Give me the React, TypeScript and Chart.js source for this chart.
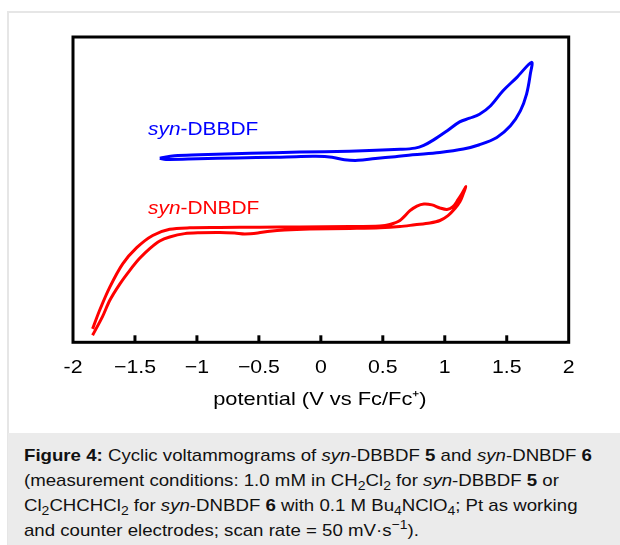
import React, { useEffect, useRef } from "react";
import { Chart, registerables } from "chart.js";

Chart.register(...registerables);

// x axis (potential, V vs Fc/Fc+)
const xTickValues = [-2, -1.5, -1, -0.5, 0, 0.5, 1, 1.5, 2];
const xTickLabels = ["-2", "\u22121.5", "\u22121", "\u22120.5", "0", "0.5", "1", "1.5", "2"];
const xTitle = "potential (V vs Fc/Fc\u207A)";

// syn-DBBDF (blue) : forward scan then return scan; current in arbitrary units
const dbbdfPotential = [
  -1.30, -1.18, -0.98, -0.57, -0.17, 0.23, 0.64, 0.76, 0.83, 0.91, 1.02, 1.12, 1.20, 1.28, 1.37, 1.47, 1.58, 1.70,
  1.69, 1.66, 1.61, 1.53, 1.42, 1.28, 1.15, 0.96, 0.74, 0.60, 0.44, 0.30, 0.19, 0.09, -0.04, -0.20, -0.36, -0.68, -0.99, -1.25, -1.30,
];
const dbbdfCurrent = [
  60.3, 61.1, 61.4, 61.9, 62.3, 62.6, 63.2, 63.6, 64.5, 66.3, 69.3, 72.2, 73.4, 74.7, 77.5, 82.4, 86.7, 91.7,
  87.8, 81.3, 75.8, 70.9, 67.1, 64.7, 63.3, 62.2, 61.4, 60.8, 60.2, 59.6, 59.8, 60.6, 60.9, 60.8, 60.6, 60.4, 60.1, 59.9, 60.3,
];

// syn-DNBDF (red)
const dnbdfPotential = [
  -1.842, -1.785, -1.704, -1.599, -1.486, -1.357, -1.220, -1.058, -0.816, -0.493, -0.170, 0.234, 0.477, 0.557, 0.638, 0.719,
  0.775, 0.832, 0.897, 0.961, 1.018, 1.066, 1.107, 1.139, 1.171,
  1.147, 1.123, 1.082, 1.026, 0.961, 0.880, 0.759, 0.638, 0.477, 0.234, -0.089, -0.291, -0.412, -0.509, -0.614, -0.695,
  -0.816, -0.977, -1.099, -1.220, -1.300, -1.381, -1.462, -1.543, -1.624, -1.704, -1.761, -1.842,
];
const dnbdfCurrent = [
  4.4, 10.5, 18.0, 25.7, 31.0, 35.0, 37.0, 37.5, 37.6, 37.7, 37.8, 37.9, 38.1, 38.6, 39.9, 43.1,
  44.6, 45.3, 45.0, 44.0, 43.5, 44.4, 46.7, 48.7, 51.0,
  48.4, 46.1, 43.8, 41.5, 39.9, 39.1, 38.5, 37.9, 37.5, 37.3, 37.1, 36.8, 36.4, 35.8, 35.5, 35.8,
  36.0, 35.9, 35.6, 34.5, 33.2, 30.7, 27.5, 23.5, 19.0, 13.7, 8.5, 2.3,
];

const FONT = "'Liberation Sans', Arial, Helvetica, sans-serif";
const SX = 1.15; // horizontal stretch of the figure's lettering

const toPoints = (xs: number[], ys: number[]) => xs.map((x, i) => ({ x, y: ys[i] }));

const framePlugin = {
  id: "frame",
  afterDraw(chart: any) {
    const { ctx, chartArea: a, scales } = chart;
    const xs = scales.x;
    ctx.save();
    ctx.strokeStyle = "#000";
    ctx.lineWidth = 3;
    ctx.strokeRect(a.left, a.top, a.right - a.left, a.bottom - a.top);
    xTickValues.forEach((v) => {
      if (v > xs.min && v < xs.max) {
        const px = xs.getPixelForValue(v);
        ctx.beginPath();
        ctx.moveTo(px, a.bottom);
        ctx.lineTo(px, a.bottom - 7);
        ctx.stroke();
      }
    });
    ctx.fillStyle = "#000";
    ctx.textAlign = "center";
    ctx.textBaseline = "middle";
    ctx.font = `18.5px ${FONT}`;
    xTickValues.forEach((v, i) => {
      const px = xs.getPixelForValue(v);
      ctx.save();
      ctx.translate(px, a.bottom + 26);
      ctx.scale(SX, 1);
      ctx.fillText(xTickLabels[i], 0, 0);
      ctx.restore();
    });
    ctx.font = `19px ${FONT}`;
    ctx.save();
    ctx.translate((a.left + a.right) / 2 - 1, a.bottom + 57);
    ctx.scale(SX, 1);
    ctx.fillText(xTitle, 0, 0);
    ctx.restore();
    ctx.restore();
  },
};

export default function App() {
  const ref = useRef<HTMLCanvasElement>(null);

  useEffect(() => {
    if (!ref.current) return;
    const chart = new Chart(ref.current, {
      type: "scatter",
      data: {
        datasets: [
          {
            label: "syn-DBBDF",
            data: toPoints(dbbdfPotential, dbbdfCurrent),
            showLine: true,
            borderColor: "#0000ff",
            borderWidth: 3,
            pointRadius: 0,
            tension: 0.35,
            fill: false,
          },
          {
            label: "syn-DNBDF",
            data: toPoints(dnbdfPotential, dnbdfCurrent),
            showLine: true,
            borderColor: "#ff0000",
            borderWidth: 3,
            pointRadius: 0,
            tension: 0.3,
            fill: false,
          },
        ],
      },
      options: {
        responsive: false,
        animation: false,
        devicePixelRatio: 1,
        layout: { padding: { left: 73, right: 51.3, top: 37, bottom: 87.7 } },
        plugins: { legend: { display: false }, tooltip: { enabled: false } },
        scales: {
          x: { type: "linear", display: false, min: -2, max: 2 },
          y: { type: "linear", display: false, min: 0, max: 100 },
        },
      },
      plugins: [framePlugin],
    });
    return () => chart.destroy();
  }, []);

  const label = (color: string, top: number, name: string) => (
    <div
      style={{
        position: "absolute",
        left: 148,
        top,
        color,
        fontFamily: FONT,
        fontSize: 18,
        lineHeight: "18px",
        whiteSpace: "nowrap",
        transform: `scaleX(${SX + 0.01})`,
        transformOrigin: "0 0",
      }}
    >
      <i>syn</i>-{name}
    </div>
  );

  const sub = { fontSize: "0.75em", lineHeight: 0 } as const;

  return (
    <div style={{ position: "absolute", left: 0, top: 0, width: 620, height: 545, overflow: "hidden", background: "#fff" }}>
      <div
        style={{
          position: "absolute",
          left: 7,
          top: 11,
          width: 700,
          height: 700,
          borderTop: "2px solid #e6e6e6",
          borderLeft: "2px solid #e6e6e6",
        }}
      />
      <canvas ref={ref} width={620} height={430} style={{ position: "absolute", left: 0, top: 0, width: 620, height: 430 }} />
      {label("#0000ff", 120, "DBBDF")}
      {label("#ff0000", 199, "DNBDF")}
      <div
        style={{
          position: "absolute",
          left: 8,
          top: 433,
          width: 612,
          height: 112,
          background: "#ebebeb",
        }}
      />
      <div
        style={{
          position: "absolute",
          left: 24,
          top: 443,
          fontFamily: FONT,
          fontSize: 17,
          lineHeight: "25px",
          color: "#111",
          whiteSpace: "nowrap",
          transform: "scaleX(1.097)",
          transformOrigin: "0 0",
        }}
      >
        <b>Figure 4:</b> Cyclic voltammograms of <i>syn</i>-DBBDF <b>5</b> and <i>syn</i>-DNBDF <b>6</b>
        <br />
        (measurement conditions: 1.0 mM in CH<sub style={sub}>2</sub>Cl<sub style={sub}>2</sub> for <i>syn</i>-DBBDF{" "}
        <b>5</b> or
        <br />
        Cl<sub style={sub}>2</sub>CHCHCl<sub style={sub}>2</sub> for <i>syn</i>-DNBDF <b>6</b> with 0.1 M Bu
        <sub style={sub}>4</sub>NClO<sub style={sub}>4</sub>; Pt as working
        <br />
        and counter electrodes; scan rate = 50 mV·s<sup style={sub}>{"\u22121"}</sup>).
      </div>
    </div>
  );
}
